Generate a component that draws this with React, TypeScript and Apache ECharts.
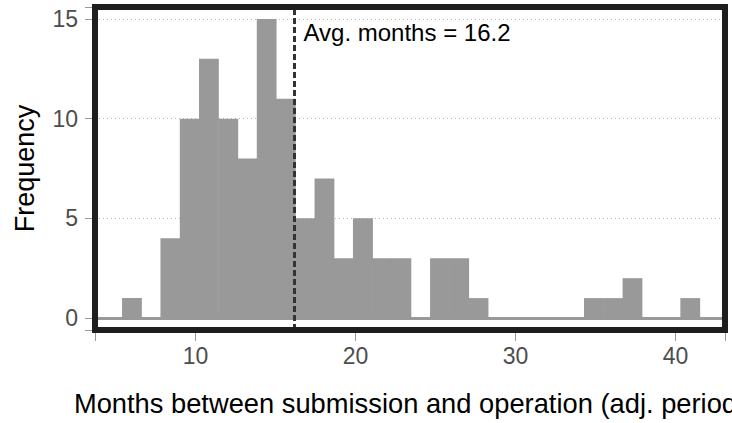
import React, { useEffect, useRef } from "react";
import * as echarts from "echarts";

// Histogram bins (months) and their counts
const binEdges = [5.41, 6.61, 7.81, 9.02, 10.22, 11.42, 12.63, 13.83, 15.03, 16.23, 17.44, 18.64, 19.84, 21.05, 22.25, 23.45, 24.66, 25.86, 27.06, 28.27, 29.47, 30.67, 31.87, 33.08, 34.28, 35.48, 36.69, 37.89, 39.09, 40.30, 41.50];
const counts = [1, 0, 4, 10, 13, 10, 8, 15, 11, 5, 7, 3, 5, 3, 3, 0, 3, 3, 1, 0, 0, 0, 0, 0, 1, 1, 2, 0, 0, 1];
const meanMonths = 16.2;
const xTicks = [10, 20, 30, 40];
const yTicks = [0, 5, 10, 15];
const gridValues = [5, 10, 15];

const FONT = "'Liberation Sans', Arial, Helvetica, sans-serif";

export default function App() {
  const ref = useRef<HTMLDivElement>(null);
  useEffect(() => {
    if (!ref.current) return;
    const chart = echarts.init(ref.current, null, { renderer: "svg" });
    const data = counts.map((c, i) => [binEdges[i], binEdges[i + 1], c]);
    chart.setOption({
      animation: false,
      backgroundColor: "#ffffff",
      grid: { left: 95, right: 7, top: 7, bottom: 93, containLabel: false, outerBoundsMode: "none" },
      xAxis: {
        type: "value",
        min: 3.72,
        max: 43.09,
        splitNumber: 4,
        axisLine: { show: true, onZero: false, lineStyle: { color: "#1e1e1e", width: 6 } },
        splitLine: { show: false },
        axisTick: { show: true, length: 11, lineStyle: { color: "#999999", width: 1 } },
        axisLabel: { customValues: xTicks, margin: 14, fontSize: 23, color: "#4d4d4d", fontFamily: FONT },
        name: "Months between submission and operation (adj. period)",
        nameLocation: "middle",
        nameGap: 60,
        nameTextStyle: { fontSize: 27.3, color: "#000000", fontFamily: FONT },
      },
      yAxis: {
        type: "value",
        min: -0.6,
        max: 15.6,
        splitNumber: 3,
        axisLine: { show: true, onZero: false, lineStyle: { color: "#1e1e1e", width: 6 } },
        splitLine: { show: false },
        axisTick: { show: true, length: 10, lineStyle: { color: "#999999", width: 1 } },
        axisLabel: { customValues: yTicks, margin: 17, fontSize: 23, color: "#4d4d4d", fontFamily: FONT },
        name: "Frequency",
        nameLocation: "middle",
        nameGap: 57,
        nameTextStyle: { fontSize: 27, color: "#000000", fontFamily: FONT },
      },
      series: [
        {
          type: "custom",
          z: 2,
          clip: true,
          data,
          encode: { x: [0, 1], y: 2 },
          renderItem: (params: any, api: any) => {
            const x0 = api.value(0);
            const x1 = api.value(1);
            const c = api.value(2);
            const p0 = api.coord([x0, c]);
            const p1 = api.coord([x1, 0]);
            return {
              type: "rect",
              shape: { x: p0[0], y: p0[1], width: p1[0] - p0[0] + 0.6, height: p1[1] - p0[1] },
              style: { fill: "#999999" },
            };
          },
          markLine: {
            silent: true,
            z: 1,
            symbol: "none",
            label: { show: false },
            lineStyle: { color: "#b8b8b8", width: 1, type: [1, 3] },
            data: gridValues.map((v) => ({ yAxis: v })),
          },
        },
        {
          type: "line",
          data: [],
          z: 5,
          markLine: {
            silent: true,
            z: 5,
            symbol: "none",
            label: { show: false },
            data: [
              { yAxis: 0, lineStyle: { color: "#999999", width: 3, type: "solid" } },
              { xAxis: meanMonths, lineStyle: { color: "#333333", width: 3, type: [6, 3] } },
            ],
          },
          markPoint: {
            silent: true,
            z: 6,
            symbol: "circle",
            symbolSize: 0,
            data: [
              {
                coord: [meanMonths + 0.55, 14.3],
                label: {
                  show: true,
                  position: "right",
                  distance: 0,
                  formatter: `Avg. months = ${meanMonths}`,
                  fontSize: 24,
                  color: "#000000",
                  fontFamily: FONT,
                },
              },
            ],
          },
        },
      ],
      graphic: [
        {
          type: "rect",
          z: 100,
          silent: true,
          shape: { x: 95, y: 7, width: 630, height: 323 },
          style: { fill: "none", stroke: "#1e1e1e", lineWidth: 6 },
        },
      ],
    });
    return () => chart.dispose();
  }, []);
  return <div ref={ref} style={{ position: "fixed", left: 0, top: 0, width: 732, height: 423 }} />;
}
